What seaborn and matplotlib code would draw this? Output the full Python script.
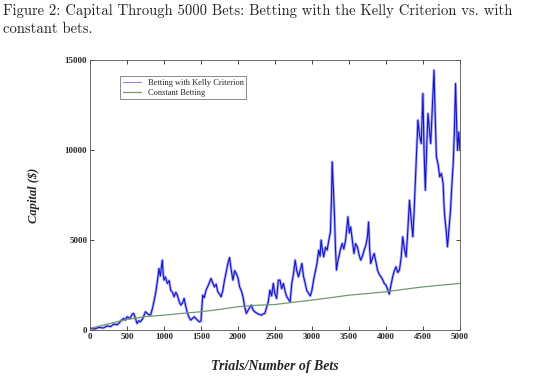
import pandas as pd
import matplotlib
matplotlib.use("Agg")
import matplotlib.pyplot as plt
import seaborn as sns

# Kelly criterion capital
kelly_trials = [
    0, 60, 120, 180, 230, 280, 320, 370, 420, 455, 480, 500, 540, 570, 590, 610,
    636, 660, 680, 710, 750, 780, 818, 850, 886, 910, 932, 950, 965, 977, 990,
    1000, 1020, 1045, 1070, 1090, 1115, 1136, 1160, 1180, 1205, 1227, 1250, 1272,
    1295, 1318, 1340, 1363, 1385, 1409, 1440, 1477, 1500, 1523, 1545, 1568, 1600,
    1636, 1660, 1681, 1705, 1727, 1750, 1772, 1795, 1818, 1840, 1863, 1886, 1910,
    1932, 1955, 1977, 2000, 2022, 2045, 2068, 2090, 2113, 2150, 2182, 2205, 2227,
    2270, 2318, 2340, 2363, 2390, 2409, 2432, 2455, 2477, 2500, 2523, 2545, 2568,
    2590, 2614, 2640, 2660, 2685, 2705, 2727, 2750, 2773, 2795, 2818, 2840, 2864,
    2885, 2909, 2930, 2955, 2978, 3000, 3023, 3045, 3068, 3091, 3110, 3123, 3140,
    3159, 3182, 3205, 3228, 3250, 3265, 3273, 3290, 3305, 3318, 3332, 3348, 3364,
    3385, 3409, 3430, 3455, 3470, 3486, 3505, 3523, 3545, 3568, 3590, 3614, 3636,
    3659, 3682, 3705, 3728, 3750, 3765, 3780, 3795, 3818, 3841, 3864, 3886, 3909,
    3932, 3955, 3977, 4000, 4020, 4045, 4068, 4091, 4114, 4136, 4160, 4182, 4205,
    4227, 4250, 4273, 4295, 4318, 4340, 4364, 4385, 4409, 4432, 4455, 4477, 4490,
    4500, 4515, 4532, 4550, 4568, 4590, 4605, 4628, 4650, 4665, 4682, 4705, 4727,
    4750, 4773, 4784, 4795, 4815, 4832, 4850, 4873, 4890, 4909, 4925, 4941, 4955,
    4968, 4985, 5000,
]
kelly_capital = [
    100, 60, 150, 120, 230, 200, 330, 300, 520, 650, 560, 740, 650, 880, 925, 700,
    370, 520, 460, 620, 1020, 900, 830, 1300, 2035, 2700, 3420, 3000, 3500, 3885, 3100,
    2775, 2950, 2590, 2750, 2220, 2100, 1850, 2100, 1940, 1600, 1390, 1500, 1760,
    1300, 925, 700, 555, 650, 740, 600, 460, 500, 1940, 1800, 2220, 2500,
    2870, 2600, 2400, 2550, 2130, 2000, 1850, 2200, 2775, 3200, 3700, 4030, 3300,
    2775, 3300, 3145, 2900, 2400, 2200, 1850, 1300, 925, 1200, 1390, 1100, 1020,
    900, 830, 900, 925, 1300, 1570, 2220, 1900, 2590, 2000, 1760, 2775, 2775,
    2300, 2590, 2100, 1850, 1700, 1570, 2590, 3100, 3885, 3300, 2960, 3300, 3700,
    3000, 2590, 2200, 2035, 1900, 2220, 2800, 3240, 3700, 4440, 4100, 5000, 4500,
    4070, 4600, 4440, 5000, 5460, 7500, 9340, 7800, 6290, 4500, 3330, 3800, 4070,
    4500, 4810, 4500, 5000, 5600, 6290, 5400, 5735, 5000, 4255, 4800, 4625, 4200,
    3885, 4100, 4440, 4700, 5180, 6000, 4500, 3700, 4000, 4255, 3800, 3330, 3100,
    2960, 2800, 2590, 2500, 2300, 2000, 2500, 2960, 3300, 3515, 3200, 3330, 4000,
    5180, 4500, 4070, 5500, 7215, 6200, 5180, 7000, 9435, 11655, 10800, 10360, 12000,
    13135, 10000, 7770, 10000, 12025, 11000, 10360, 12500, 14430, 12000, 9620, 9200, 8510,
    8700, 8140, 7000, 6290, 5500, 4625, 5500, 6660, 8000, 9250, 11000, 13690, 11500,
    9990, 11000, 9990,
]

# constant betting capital
const_trials = [0, 250, 500, 750, 1000, 1250, 1500, 1750, 2000, 2250, 2500,
                2750, 3000, 3250, 3500, 3750, 4000, 4250, 4500, 4750, 5000]
const_capital = [100, 350, 590, 750, 830, 930, 1020, 1150, 1300, 1380, 1420,
                 1550, 1665, 1800, 1940, 2030, 2130, 2270, 2400, 2500, 2590]

kelly = pd.DataFrame({"trial": kelly_trials, "capital": kelly_capital})
const = pd.DataFrame({"trial": const_trials, "capital": const_capital})

sns.set_style("ticks")
plt.rcParams["font.family"] = ["Liberation Serif", "DejaVu Serif"]

fig = plt.figure(figsize=(5.4, 3.87), dpi=100)
ax = fig.add_axes([0.1667, 0.147, 0.685, 0.698])

# light halo under the dark line to give the dense noisy band look
sns.lineplot(data=kelly, x="trial", y="capital", ax=ax, color="#9a9af2",
             lw=2.0, alpha=0.8, legend=False)
sns.lineplot(data=kelly, x="trial", y="capital", ax=ax, color="#1414c8",
             lw=0.8, label="Betting with Kelly Criterion")
sns.lineplot(data=const, x="trial", y="capital", ax=ax, color="#6f9a6f",
             lw=0.9, label="Constant Betting")

ax.set_xlim(0, 5000)
ax.set_ylim(0, 15000)
ax.set_xticks(range(0, 5001, 500))
ax.set_yticks([0, 5000, 10000, 15000])
ax.tick_params(direction="in", length=3, width=0.6, labelsize=6.5,
               top=True, right=True, pad=2)
for lab in ax.get_xticklabels() + ax.get_yticklabels():
    lab.set_fontweight("bold")
for sp in ax.spines.values():
    sp.set_linewidth(0.6)
    sp.set_color("#555555")

ax.set_xlabel("Trials/Number of Bets", fontsize=10, fontweight="bold",
              fontstyle="italic", labelpad=14)
ax.set_ylabel("Capital ($)", fontsize=9, fontweight="bold",
              fontstyle="italic", labelpad=18)

leg = ax.legend(loc="upper left", bbox_to_anchor=(0.07, 0.955), fontsize=6,
                frameon=True, fancybox=False, edgecolor="#555555",
                handlelength=2.2, borderpad=0.3, labelspacing=0.25)
leg.get_frame().set_linewidth(0.6)
leg.get_lines()[0].set_color("#8c8cf0")

fig.text(0.006, 0.99, "Figure 2: Capital Through 5000 Bets: Betting with the Kelly Criterion vs. with",
         family="cmr10", fontsize=10.55, va="top", ha="left")
fig.text(0.006, 0.943, "constant bets.", family="cmr10", fontsize=10.55,
         va="top", ha="left")

fig.savefig("out.png", dpi=100)
